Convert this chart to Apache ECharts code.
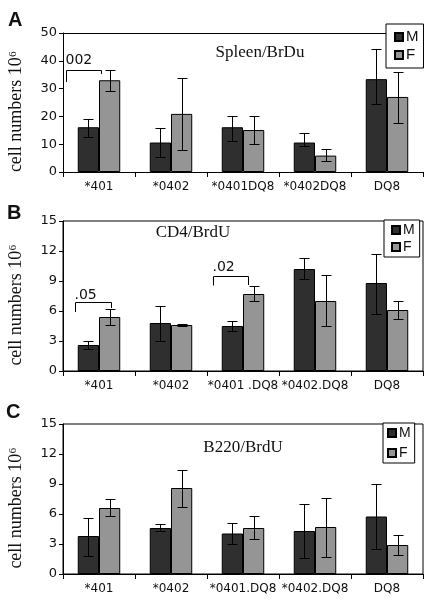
<!DOCTYPE html>
<html><head><meta charset="utf-8">
<script src="https://cdn.jsdelivr.net/npm/echarts@6/dist/echarts.min.js"></script>
<style>html,body{margin:0;padding:0;background:#fff}#c{width:434px;height:606px}</style>
</head><body><div id="c"></div>
<script>
// ---- categories ----
const catsA = ['*401', '*0402', '*0401DQ8', '*0402DQ8', 'DQ8'];
const catsB = ['*401', '*0402', '*0401 .DQ8', '*0402.DQ8', 'DQ8'];
const catsC = ['*401', '*0402', '*0401.DQ8', '*0402.DQ8', 'DQ8'];
// ---- panel A: Spleen/BrDu ----
const aM     = [16.1, 10.6, 16.1, 10.6, 33.4];
const aMLow  = [12.7,  5.5, 11.3,  9.2, 24.6];
const aMHigh = [19.1, 15.7, 20.0, 14.0, 44.1];
const aF     = [33.0, 20.9, 15.1,  5.9, 27.0];
const aFLow  = [29.2,  7.9, 10.0,  4.0, 17.5];
const aFHigh = [36.6, 33.9, 20.0,  8.2, 35.8];
// ---- panel B: CD4/BrdU ----
const bM     = [2.6, 4.8, 4.5, 10.2, 8.8];
const bMLow  = [2.2, 3.0, 4.0,  9.2, 5.7];
const bMHigh = [3.0, 6.5, 5.0, 11.3, 11.7];
const bF     = [5.4, 4.6, 7.7,  7.0, 6.1];
const bFLow  = [4.6, 4.5, 7.0,  4.5, 5.2];
const bFHigh = [6.2, 4.7, 8.5,  9.6, 7.0];
// ---- panel C: B220/BrdU ----
const cM     = [3.8, 4.6, 4.05, 4.3, 5.75];
const cMLow  = [1.8, 4.3, 3.05, 1.65, 2.55];
const cMHigh = [5.6, 5.0, 5.1,  7.0, 9.0];
const cF     = [6.6, 8.6, 4.6,  4.7, 2.9];
const cFLow  = [5.8, 6.7, 3.5,  1.7, 1.9];
const cFHigh = [7.5, 10.4, 5.8, 7.6, 3.9];
// ---- axis ticks ----
const maxA = 50, stepA = 10;
const maxBC = 15, stepBC = 3;
// ---- significance brackets ----
const bracketPanel = [0, 1, 1];
const bracketCat   = [0, 0, 2];
const bracketText  = ['002', '.05', '.02'];
const bracketTop   = [36.8, 6.9, 9.55];
const bracketLowL  = [32.4, 5.9, 8.55];
const bracketLowR  = [35.3, 6.3, 8.6];
const bracketTextY = [40.2, 7.6, 10.4];

const GAP = 0.41;
const CAP = 10;
const M_COLOR = '#2f2f2f', F_COLOR = '#959595';
const TXT = '#111';
const SANS = 'DejaVu Sans';
const SERIF = 'Liberation Serif';
// horizontal bracket leg positions, in category-band units relative to band centre
const bracketFrom = [-0.453, -0.338, -0.417];
const bracketTo   = [0.022, 0.17, 0.076];

function zip3(a, b) { return a.map((v, i) => [i, v, b[i]]); }

function errRender(side) {
  return function (params, api) {
    const i = api.value(0);
    const lo = api.coord([i, api.value(1)]);
    const hi = api.coord([i, api.value(2)]);
    const band = api.size([1, 0])[0];
    const bw = band * (1 - GAP) / 2;
    const x = Math.round(lo[0] + side * bw / 2) + 0.5;
    const yl = Math.round(lo[1]) + 0.5, yh = Math.round(hi[1]) + 0.5;
    const hw = CAP / 2;
    const st = { stroke: '#000', lineWidth: 1 };
    return { type: 'group', children: [
      { type: 'line', shape: { x1: x, y1: yh, x2: x, y2: yl }, style: st },
      { type: 'line', shape: { x1: x - hw, y1: yh, x2: x + hw, y2: yh }, style: st },
      { type: 'line', shape: { x1: x - hw, y1: yl, x2: x + hw, y2: yl }, style: st }
    ] };
  };
}

function bracketRender(params, api) {
  const k = api.value(0);
  const cat = bracketCat[k];
  const band = api.size([1, 0])[0];
  const c = api.coord([cat, bracketTop[k]]);
  const xl = Math.round(c[0] + bracketFrom[k] * band) + 0.5;
  const xr = Math.round(c[0] + bracketTo[k] * band) + 0.5;
  const yt = Math.round(c[1]) + 0.5;
  const yL = api.coord([cat, bracketLowL[k]])[1];
  const yR = api.coord([cat, bracketLowR[k]])[1];
  const yT = api.coord([cat, bracketTextY[k]])[1];
  return { type: 'group', children: [
    { type: 'polyline', shape: { points: [[xl, yL], [xl, yt], [xr, yt], [xr, yR]] },
      style: { stroke: '#000', lineWidth: 1, fill: null } },
    { type: 'text', x: xl - 1, y: yT,
      style: { text: bracketText[k], fill: TXT, font: '14px "DejaVu Sans"', textAlign: 'left', textVerticalAlign: 'middle' } }
  ] };
}

const grids = [
  { left: 63, top: 33, width: 360, height: 139, show: false, outerBoundsMode: 'none', containLabel: false },
  { left: 63, top: 221, width: 360, height: 150, show: true, borderColor: '#000', borderWidth: 1, backgroundColor: 'transparent', outerBoundsMode: 'none', containLabel: false },
  { left: 63, top: 424, width: 360, height: 150, show: true, borderColor: '#000', borderWidth: 1, backgroundColor: 'transparent', outerBoundsMode: 'none', containLabel: false }
];

function xAx(gi, cats) {
  return {
    type: 'category', gridIndex: gi, data: cats,
    axisLine: { show: true, lineStyle: { color: '#000', width: 1 } },
    axisTick: { show: true, length: 5, interval: 0, lineStyle: { color: '#000' } },
    axisLabel: { interval: 0, fontSize: 12, fontFamily: SANS, color: TXT, margin: 9 },
    splitLine: { show: false }
  };
}
function yAx(gi, max, step) {
  return {
    type: 'value', gridIndex: gi, min: 0, max: max, interval: step,
    axisLine: { show: true, lineStyle: { color: '#000', width: 1 } },
    axisTick: { show: true, length: 4, lineStyle: { color: '#000' } },
    axisLabel: { fontSize: 13, fontFamily: SANS, color: TXT, margin: 6 },
    splitLine: { show: false },
    name: 'cell numbers 10\u2076', nameLocation: 'middle', nameGap: 38,
    nameTextStyle: { fontFamily: SERIF, fontSize: 18, color: TXT, padding: [0, 18, 0, 0] }
  };
}

const xAxes = [xAx(0, catsA), xAx(1, catsB), xAx(2, catsC),
  { type: 'category', gridIndex: 0, position: 'top', data: catsA,
    axisLine: { show: true, lineStyle: { color: '#000' } }, axisTick: { show: false }, axisLabel: { show: false } }];
const yAxes = [yAx(0, maxA, stepA), yAx(1, maxBC, stepBC), yAx(2, maxBC, stepBC)];

function barSeries(name, data, gi, color) {
  return { type: 'bar', name: name, xAxisIndex: gi, yAxisIndex: gi, data: data,
    barGap: 0, barCategoryGap: (GAP * 100) + '%',
    itemStyle: { color: color, borderColor: '#000', borderWidth: 1 } };
}
function errSeries(lo, hi, gi, side) {
  return { type: 'custom', name: 'err', xAxisIndex: gi, yAxisIndex: gi, z: 5,
    data: zip3(lo, hi), encode: { x: 0, y: [1, 2] }, renderItem: errRender(side), silent: true };
}

const series = [
  barSeries('M', aM, 0, M_COLOR), barSeries('F', aF, 0, F_COLOR),
  barSeries('M', bM, 1, M_COLOR), barSeries('F', bF, 1, F_COLOR),
  barSeries('M', cM, 2, M_COLOR), barSeries('F', cF, 2, F_COLOR),
  errSeries(aMLow, aMHigh, 0, -1), errSeries(aFLow, aFHigh, 0, 1),
  errSeries(bMLow, bMHigh, 1, -1), errSeries(bFLow, bFHigh, 1, 1),
  errSeries(cMLow, cMHigh, 2, -1), errSeries(cFLow, cFHigh, 2, 1)
];
[0, 1, 2].forEach(gi => {
  const idx = bracketPanel.map((p, k) => p === gi ? k : -1).filter(k => k >= 0);
  if (idx.length) series.push({ type: 'custom', name: 'bracket', xAxisIndex: gi, yAxisIndex: gi, z: 6,
    data: idx.map(k => [k, bracketTop[k]]), encode: { x: -1, y: 1 }, renderItem: bracketRender, silent: true });
});

function legendAt(left, top, pad, gap, fs, lh) {
  return { data: ['M', 'F'], orient: 'vertical', left: left, top: top, padding: pad, itemGap: gap,
    itemWidth: 8, itemHeight: 8, icon: 'rect', backgroundColor: '#fff', borderColor: '#000', borderWidth: 1,
    borderRadius: 0, selectedMode: false, z: 10,
    textStyle: { fontFamily: 'Liberation Sans', fontSize: fs, lineHeight: lh, color: TXT, padding: [0, 0, 0, -2] } };
}

const titleStyle = (ff, fs, fw) => ({ fontFamily: ff, fontSize: fs, fontWeight: fw, color: TXT });
const option = {
  animation: false,
  backgroundColor: '#fff',
  title: [
    { text: 'A', left: 8, top: 10, padding: 0, textStyle: titleStyle('Liberation Sans', 20, 'bold') },
    { text: 'B', left: 7, top: 203, padding: 0, textStyle: titleStyle('Liberation Sans', 20, 'bold') },
    { text: 'C', left: 6, top: 402, padding: 0, textStyle: titleStyle('Liberation Sans', 20, 'bold') },
    { text: 'Spleen/BrDu', left: 260, top: 44, textAlign: 'center', padding: 0, textStyle: titleStyle(SERIF, 17, 'normal') },
    { text: 'CD4/BrdU', left: 193, top: 224, textAlign: 'center', padding: 0, textStyle: titleStyle(SERIF, 17, 'normal') },
    { text: 'B220/BrdU', left: 243, top: 439, textAlign: 'center', padding: 0, textStyle: titleStyle(SERIF, 17, 'normal') }
  ],
  legend: [
    legendAt(386, 24, [5, 5, 5, 8], 2, 15, 16),
    legendAt(384, 220, [3, 5, 3, 7], 3, 14, 14),
    legendAt(383, 423, [3, 4, 3, 4], 6, 14, 14)
  ],
  grid: grids,
  xAxis: xAxes,
  yAxis: yAxes,
  series: series
};
const chart = echarts.init(document.getElementById('c'), null, { renderer: 'canvas' });
chart.setOption(option);
</script></body></html>
